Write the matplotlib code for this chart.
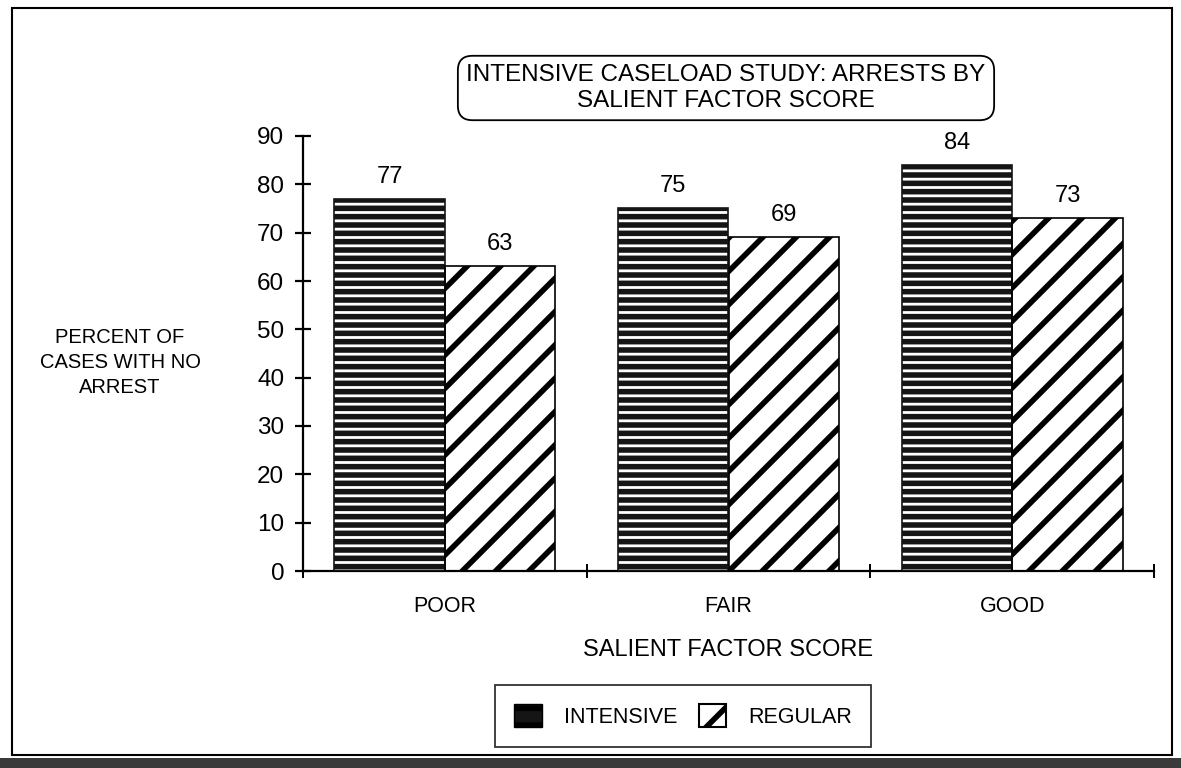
import matplotlib
matplotlib.use("Agg")
import matplotlib.pyplot as plt
from matplotlib.patches import Patch, Rectangle
import numpy as np

categories = ["POOR", "FAIR", "GOOD"]
intensive = [77, 75, 84]
regular = [63, 69, 73]
yticks = [0, 10, 20, 30, 40, 50, 60, 70, 80, 90]
title_text = "INTENSIVE CASELOAD STUDY: ARRESTS BY\nSALIENT FACTOR SCORE"
ylabel_text = "PERCENT OF\nCASES WITH NO\nARREST"
xlabel_text = "SALIENT FACTOR SCORE"
legend_labels = ["INTENSIVE", "REGULAR"]

plt.rcParams['font.family'] = ['Liberation Sans', 'DejaVu Sans']
plt.rcParams['hatch.linewidth'] = 4.0

W, H = 1181, 768
fig = plt.figure(figsize=(W / 100, H / 100), dpi=100)
fig.patch.set_facecolor('white')

ax = fig.add_axes([303 / W, 1 - 571 / H, (1154 - 303) / W, (571 - 136) / H])
ax.set_xlim(-0.5, 2.5)
ax.set_ylim(0, 90)

x = np.arange(len(categories))
bw = 0.39
off = 0.195

# intensive bars: dark with fine white horizontal streaks
with plt.rc_context({'hatch.linewidth': 2.0}):
    ax.bar(x - off, intensive, bw, color='#151515', edgecolor='white',
           linewidth=0, hatch='--', zorder=2)
ax.bar(x - off, intensive, bw, fill=False, edgecolor='#151515',
       linewidth=1.2, zorder=3)
# regular bars: white with thick black diagonal stripes
ax.bar(x + off, regular, bw, color='white', edgecolor='black',
       linewidth=0, hatch='/', zorder=2)
ax.bar(x + off, regular, bw, fill=False, edgecolor='black',
       linewidth=1.2, zorder=3)

for xi, v in zip(x - off, intensive):
    ax.annotate(str(v), (xi, v), xytext=(0, 16), textcoords='offset points',
                ha='center', va='center', fontsize=17)
for xi, v in zip(x + off, regular):
    ax.annotate(str(v), (xi, v), xytext=(0, 16), textcoords='offset points',
                ha='center', va='center', fontsize=17)

for s in ['top', 'right']:
    ax.spines[s].set_visible(False)
for s in ['left', 'bottom']:
    ax.spines[s].set_linewidth(1.6)

ax.set_yticks(yticks)
ax.set_yticklabels([str(t) for t in yticks], fontsize=17.5)
ax.tick_params(axis='y', direction='inout', length=11, width=1.6, pad=8)

ax.set_xticks([-0.5, 0.5, 1.5, 2.5])
ax.set_xticklabels(['', '', '', ''])
ax.tick_params(axis='x', which='major', direction='inout', length=10, width=1.4)
ax.set_xticks(x, minor=True)
ax.set_xticklabels(categories, minor=True, fontsize=15.5)
ax.tick_params(axis='x', which='minor', length=0, pad=18)

# axis labels
fig.text(120 / W, 1 - 362 / H, ylabel_text, ha='center', va='center',
         fontsize=14.5, linespacing=1.4)
fig.text(728 / W, 1 - 650 / H, xlabel_text, ha='center', va='center',
         fontsize=17)

# title in rounded box
fig.text(726 / W, 1 - 88 / H, title_text, ha='center', va='center',
         fontsize=17.5, linespacing=1.2,
         bbox=dict(boxstyle='round,pad=0.35,rounding_size=0.6',
                   facecolor='white', edgecolor='black', linewidth=1.3))

# legend
h1 = Patch(facecolor='#151515', edgecolor='black', hatch='-', linewidth=1.0)
h2 = Patch(facecolor='white', edgecolor='black', hatch='/', linewidth=1.5)
leg = fig.legend([h1, h2], legend_labels, loc='center',
                 bbox_to_anchor=(683 / W, 1 - 716 / H), ncol=2, fontsize=15.5,
                 frameon=True, fancybox=False, edgecolor='black',
                 handlelength=1.3, handleheight=1.3, handletextpad=1.0,
                 columnspacing=1.0, borderpad=0.9)
leg.get_frame().set_linewidth(1.3)

# outer page frame and scan band
fig.add_artist(Rectangle((12 / W, 1 - 755 / H), (1172 - 12) / W, (755 - 8) / H,
                         transform=fig.transFigure, fill=False,
                         edgecolor='black', linewidth=1.5))
fig.add_artist(Rectangle((0, 0), 1, 10 / H, transform=fig.transFigure,
                         facecolor='#3a3a3a', edgecolor='none', hatch='..'))

fig.savefig('out.png', dpi=100, facecolor='white')
